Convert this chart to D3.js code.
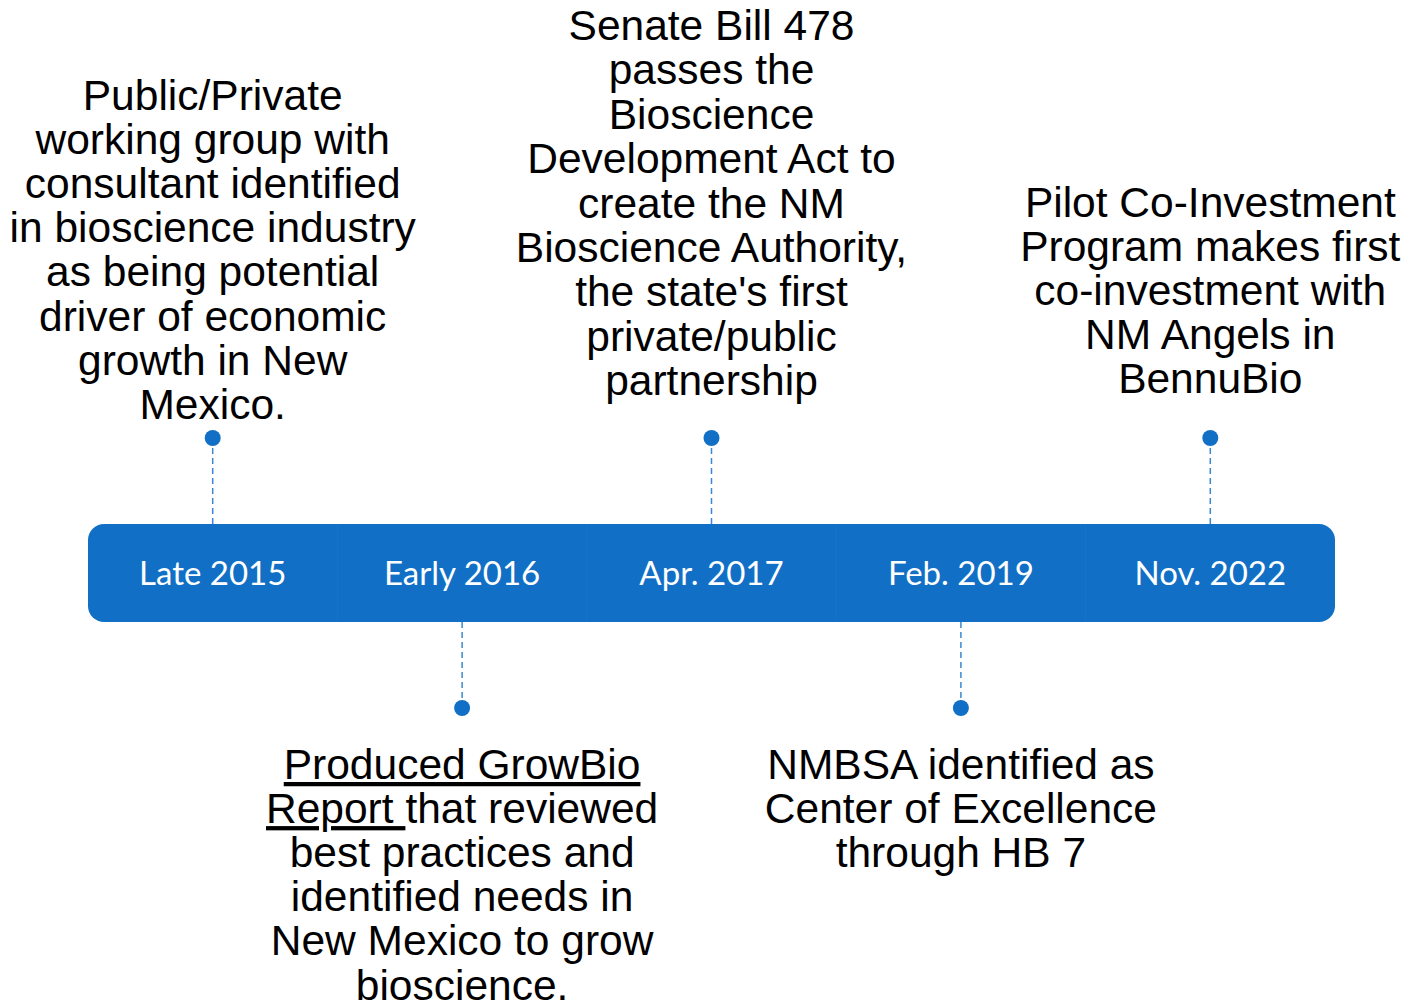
<!DOCTYPE html>
<html>
<head>
<meta charset="utf-8">
<script src="https://cdn.jsdelivr.net/npm/d3@7"></script>
<style>
  html, body { margin: 0; padding: 0; background: #ffffff; }
  svg { display: block; }
</style>
</head>
<body>
<div id="timeline"></div>
<script>
// timeline data
const dates = ["Late 2015", "Early 2016", "Apr. 2017", "Feb. 2019", "Nov. 2022"];
const sides = ["above", "below", "above", "below", "above"];
// "_" toggles underline inside a line
const notes = [
  ["Public/Private", "working group with", "consultant identified", "in bioscience industry",
   "as being potential", "driver of economic", "growth in New", "Mexico."],
  ["_Produced GrowBio_", "_Report _that reviewed", "best practices and", "identified needs in",
   "New Mexico to grow", "bioscience."],
  ["Senate Bill 478", "passes the", "Bioscience", "Development Act to", "create the NM",
   "Bioscience Authority,", "the state's first", "private/public", "partnership"],
  ["NMBSA identified as", "Center of Excellence", "through HB 7"],
  ["Pilot Co-Investment", "Program makes first", "co-investment with", "NM Angels in", "BennuBio"]
];

// layout
const width = 1406, height = 1004;
const barTop = 524, barBottom = 622, barLeft = 88, barRight = 1335;
const dotAbove = 438, dotBelow = 708;
const lineH = [44.1, 44.1, 44.4, 44.1, 44.1];
const firstBaseline = [110, 779, 40, 779, 217];
const blue = "#1170c6";

const svg = d3.select("#timeline")
  .append("svg")
  .attr("width", width)
  .attr("height", height);

const x = d3.scaleBand().domain(dates).range([barLeft, barRight]).padding(0);
const cx = (d) => x(d) + x.bandwidth() / 2;

// rounded bar behind everything
svg.append("rect")
  .attr("x", barLeft)
  .attr("y", barTop)
  .attr("width", barRight - barLeft)
  .attr("height", barBottom - barTop)
  .attr("rx", 16)
  .attr("fill", blue);

// faint separators between segments
svg.selectAll("line.sep")
  .data(dates.slice(1))
  .join("line")
  .attr("class", "sep")
  .attr("x1", (d) => x(d))
  .attr("x2", (d) => x(d))
  .attr("y1", barTop)
  .attr("y2", barBottom)
  .attr("stroke", "#3d8ad3")
  .attr("stroke-width", 1)
  .attr("opacity", 0.15);

// date labels
svg.selectAll("text.date")
  .data(dates)
  .join("text")
  .attr("class", "date")
  .attr("x", cx)
  .attr("y", 585)
  .attr("text-anchor", "middle")
  .attr("fill", "white")
  .style("font-family", "Lato, 'Open Sans', sans-serif")
  .style("font-size", "33px")
  .text((d) => d);

// dashed connectors
svg.selectAll("line.conn")
  .data(dates)
  .join("line")
  .attr("class", "conn")
  .attr("x1", cx)
  .attr("x2", cx)
  .attr("y1", (d, i) => (sides[i] === "above" ? dotAbove : barBottom))
  .attr("y2", (d, i) => (sides[i] === "above" ? barTop : dotBelow))
  .attr("stroke", "#3b87d1")
  .attr("stroke-width", 1.5)
  .attr("stroke-dasharray", "6,4");

// dots
svg.selectAll("circle.dot")
  .data(dates)
  .join("circle")
  .attr("class", "dot")
  .attr("cx", cx)
  .attr("cy", (d, i) => (sides[i] === "above" ? dotAbove : dotBelow))
  .attr("r", 8)
  .attr("fill", blue);

// note texts
const noteG = svg.selectAll("text.note")
  .data(dates)
  .join("text")
  .attr("class", "note")
  .attr("text-anchor", "middle")
  .attr("fill", "#000")
  .style("font-family", "'Liberation Sans', Arial, sans-serif")
  .style("font-size", "42.5px")
  .style("white-space", "pre");

noteG.each(function (d, i) {
  const t = d3.select(this);
  notes[i].forEach((line, j) => {
    const row = t.append("tspan")
      .attr("x", cx(d))
      .attr("y", firstBaseline[i] + j * lineH[i]);
    const parts = line.split("_");
    parts.forEach((p, k) => {
      if (p === "") return;
      row.append("tspan")
        .style("text-decoration", k % 2 === 1 ? "underline" : "none")
        .text(p);
    });
  });
});
</script>
</body>
</html>
